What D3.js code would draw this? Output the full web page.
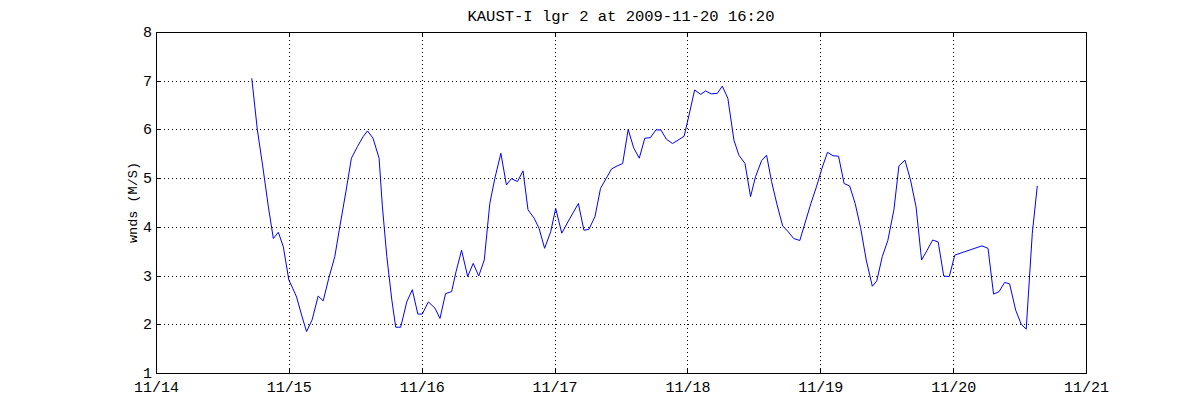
<!DOCTYPE html>
<html>
<head>
<meta charset="utf-8">
<script src="https://cdn.jsdelivr.net/npm/d3@7"></script>
<style>
  html, body { margin: 0; padding: 0; background: #fff; }
  svg { display: block; }
  text { font-family: "Liberation Mono", "DejaVu Sans Mono", monospace; fill: #000; }
</style>
</head>
<body>
<svg id="chart" width="1200" height="420"></svg>
<script>
// ---- data (hours since 2009-11-14 00:00 UTC, wind speed m/s) ----
const titleText = "KAUST-I lgr 2 at 2009-11-20 16:20";
const yLabel = "wnds (M/S)";
const hours = [17.3,18.3,19.3,20.3,21.2,22.1,23.0,24.0,24.7,25.4,26.3,27.2,28.2,29.3,30.2,31.2,32.3,33.2,34.3,35.3,
  36.4,37.4,38.2,39.2,40.3,40.9,41.7,42.6,43.3,44.2,45.3,46.3,47.3,48.1,49.2,50.4,51.3,52.3,53.4,54.2,
  55.2,56.3,57.3,58.3,59.3,60.3,61.2,62.3,63.3,64.2,65.3,66.3,67.2,68.3,69.2,70.2,71.3,72.2,73.3,74.4,
  75.4,76.3,77.3,78.2,79.3,80.3,81.3,82.3,83.3,84.3,85.3,86.3,87.3,88.3,89.3,90.3,91.2,92.2,93.3,94.3,
  95.4,96.3,97.3,98.4,99.3,100.3,101.4,102.3,103.3,104.4,105.3,106.4,107.4,108.3,109.4,110.3,111.2,112.2,113.2,114.2,
  115.2,116.3,117.3,118.3,119.3,120.3,121.3,122.3,123.3,124.3,125.3,126.3,127.3,128.3,129.4,130.2,131.2,132.2,133.3,134.2,
  135.3,136.3,137.3,138.3,139.3,140.3,141.3,142.3,143.3,144.3,149.2,150.3,151.3,152.3,153.3,154.2,155.3,156.3,157.2,158.3,159.2];
const winds = [7.05,6.00,5.23,4.41,3.76,3.89,3.59,2.91,2.74,2.56,2.19,1.85,2.09,2.58,2.48,2.94,3.39,4.00,4.72,5.41,
  5.65,5.85,5.97,5.82,5.41,4.41,3.39,2.50,1.94,1.94,2.46,2.71,2.21,2.21,2.46,2.33,2.12,2.63,2.67,3.08,
  3.52,2.98,3.25,2.99,3.32,4.48,4.99,5.51,4.86,4.99,4.93,5.15,4.35,4.18,3.97,3.56,3.90,4.38,3.87,4.10,
  4.30,4.48,3.93,3.95,4.21,4.79,4.99,5.19,5.25,5.30,6.00,5.62,5.41,5.82,5.83,5.99,5.99,5.80,5.71,5.78,
  5.86,6.30,6.81,6.72,6.79,6.73,6.74,6.89,6.64,5.78,5.47,5.30,4.62,5.03,5.36,5.47,4.93,4.45,4.02,3.90,
  3.76,3.72,4.10,4.48,4.82,5.20,5.53,5.46,5.45,4.89,4.84,4.48,3.97,3.32,2.78,2.89,3.39,3.72,4.35,5.25,
  5.37,4.96,4.41,3.32,3.52,3.73,3.69,2.99,2.98,3.42,3.61,3.56,2.62,2.67,2.86,2.83,2.29,2.00,1.90,3.87,4.84];
const yTicks = [1,2,3,4,5,6,7,8];
const xStart = Date.UTC(2009, 10, 14);
const xEnd = Date.UTC(2009, 10, 21);

// ---- layout ----
const L = 156, R = 1086, T = 32, B = 373;
const svg = d3.select("#chart");

const x = d3.scaleUtc().domain([new Date(xStart), new Date(xEnd)]).range([L, R]);
const y = d3.scaleLinear().domain([1, 8]).range([B, T]);
const xTickVals = d3.utcDay.range(new Date(xStart), new Date(xEnd + 1));
const fmt = d3.utcFormat("%m/%d");

// gridlines (dotted)
const grid = svg.append("g").attr("class", "grid");
grid.append("g").attr("transform", `translate(0,${B})`)
  .call(d3.axisBottom(x).tickValues(xTickVals).tickSize(-(B - T)).tickFormat(""))
  .call(g => g.select(".domain").remove());
grid.append("g").attr("transform", `translate(${L},0)`)
  .call(d3.axisLeft(y).tickValues(yTicks).tickSize(-(R - L)).tickFormat(""))
  .call(g => g.select(".domain").remove());
grid.selectAll("line").attr("stroke", "#000").attr("stroke-width", 1)
  .attr("stroke-dasharray", "1,3").attr("shape-rendering", "crispEdges");

// data line
const pts = hours.map((h, i) => ({ t: new Date(xStart + h * 3600000), v: winds[i] }));
svg.append("path").datum(pts)
  .attr("fill", "none").attr("stroke", "#0000ff").attr("stroke-width", 1)
  .attr("d", d3.line().x(d => x(d.t)).y(d => y(d.v)));

// axes with inward ticks on all four sides
const tickLen = 5;
const axB = svg.append("g").attr("transform", `translate(0,${B})`)
  .call(d3.axisBottom(x).tickValues(xTickVals).tickSizeInner(-tickLen).tickSizeOuter(0).tickFormat(fmt));
axB.selectAll("text").attr("y", 18.5).attr("dy", 0).style("font-size", "15px");
const axT = svg.append("g").attr("transform", `translate(0,${T})`)
  .call(d3.axisTop(x).tickValues(xTickVals).tickSizeInner(-tickLen).tickSizeOuter(0).tickFormat(""));
const axL = svg.append("g").attr("transform", `translate(${L},0)`)
  .call(d3.axisLeft(y).tickValues(yTicks).tickSizeInner(-tickLen).tickSizeOuter(0).tickFormat(d3.format("d")));
axL.selectAll("text").attr("x", -4).attr("dy", "0.3em").style("font-size", "15px");
const axR = svg.append("g").attr("transform", `translate(${R},0)`)
  .call(d3.axisRight(y).tickValues(yTicks).tickSizeInner(-tickLen).tickSizeOuter(0).tickFormat(""));
svg.selectAll(".domain, .tick line").attr("shape-rendering", "crispEdges");
[axB, axT, axL, axR].forEach(a => a.selectAll(".domain, .tick line").attr("stroke", "#000"));

// title & y label
svg.append("text").attr("x", (L + R) / 2).attr("y", 21)
  .attr("text-anchor", "middle").style("font-size", "15.5px").text(titleText);
svg.append("text").attr("transform", `translate(137,${(T + B) / 2}) rotate(-90)`)
  .attr("text-anchor", "middle").style("font-size", "13.5px").text(yLabel);
</script>
</body>
</html>
